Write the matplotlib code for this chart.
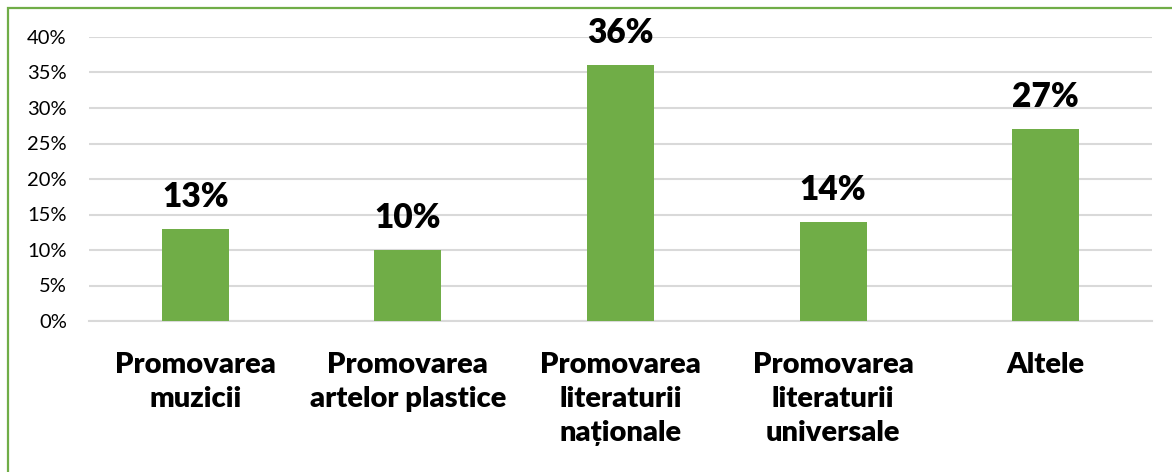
import matplotlib
matplotlib.use("Agg")
import matplotlib.pyplot as plt
from matplotlib.patches import Rectangle

categories = ["Promovarea\nmuzicii", "Promovarea\nartelor plastice", "Promovarea\nliteraturii\nnaționale",
              "Promovarea\nliteraturii\nuniversale", "Altele"]
values = [13, 10, 36, 14, 27]
yticks = [0, 5, 10, 15, 20, 25, 30, 35, 40]

plt.rcParams['font.family'] = ['Lato', 'DejaVu Sans']
green = "#70AD47"

fig = plt.figure(figsize=(11.72, 4.72), dpi=100)
ax = fig.add_axes([89/1172, 1-321/472, (1152-89)/1172, (321-37)/472])

x = list(range(len(categories)))
bars = ax.bar(x, values, width=0.315, color=green, zorder=3)
ax.set_xlim(-0.5, len(categories)-0.5)
ax.set_ylim(0, 40)
ax.set_yticks(yticks)
ax.set_yticklabels([f"{t}%" for t in yticks], fontsize=14.5)
ax.grid(axis='y', color='#D9D9D9', linewidth=1.5, zorder=0)
for s in ['top', 'right', 'left']:
    ax.spines[s].set_visible(False)
ax.spines['bottom'].set_color('#D9D9D9')
ax.spines['bottom'].set_linewidth(1.5)
ax.tick_params(axis='both', length=0)
ax.tick_params(axis='y', pad=16)
ax.set_xticks(x)
ax.set_xticklabels(categories, fontsize=21, fontweight='heavy', linespacing=1.38)
ax.tick_params(axis='x', pad=22)
for xi, v in zip(x, values):
    ax.annotate(f"{v}%", (xi, v), xytext=(0, 23), textcoords='offset points',
                ha='center', va='center', fontsize=24, fontweight='heavy')

fig.add_artist(Rectangle((8/1172, -0.1), 1.2, 1-8/472+0.1, transform=fig.transFigure,
                         fill=False, edgecolor=green, linewidth=1.6))
fig.savefig("out.png", dpi=100)
